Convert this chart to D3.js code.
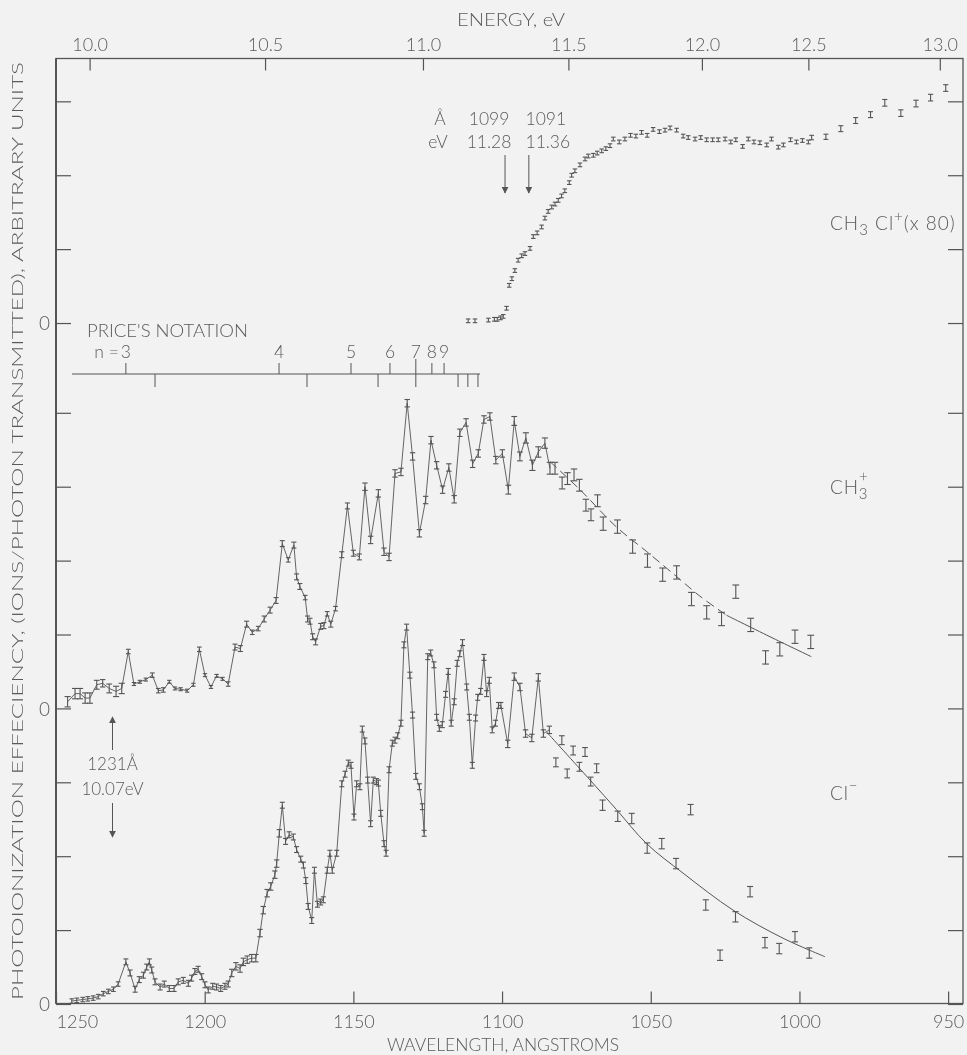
<!DOCTYPE html>
<html><head><meta charset="utf-8">
<title>CH3Cl photoionization efficiency</title>
<style>
  html, body { margin:0; background:#f2f2f2; }
  svg { filter: grayscale(100%); }
  svg text { font-family: Lato, "Open Sans", "DejaVu Sans", sans-serif; fill:#5a5a5a; font-weight:300; }
  .axis path { display:none; }
  .axis line { stroke:#555; stroke-width:1.2; }
  .axis text { font-size:18px; fill:#5a5a5a; }
</style>
</head><body>
<svg id="c" width="967" height="1055"></svg>
<script src="https://cdn.jsdelivr.net/npm/d3@7"></script>
<script>
// ---- data: [wavelength Å, value in divisions, error half-height] ----
const clMinus = [
  [1244.7,0.04,0.03],[1243.0,0.05,0.03],[1241.0,0.06,0.03],[1239.3,0.07,0.03],[1237.5,0.08,0.03],[1235.8,0.10,0.03],
  [1234.1,0.14,0.03],[1232.4,0.17,0.03],[1230.7,0.20,0.03],[1229.1,0.27,0.03],[1226.5,0.57,0.04],[1225.1,0.42,0.04],
  [1223.4,0.20,0.04],[1222.0,0.33,0.04],[1220.6,0.39,0.04],[1219.5,0.50,0.04],[1218.6,0.57,0.04],[1217.8,0.46,0.04],
  [1216.7,0.30,0.04],[1215.0,0.23,0.04],[1213.6,0.27,0.04],[1211.9,0.21,0.04],[1210.3,0.21,0.04],[1208.9,0.30,0.04],
  [1207.2,0.32,0.04],[1205.5,0.28,0.04],[1204.4,0.35,0.04],[1203.3,0.44,0.04],[1202.2,0.47,0.04],[1201.0,0.37,0.04],
  [1199.9,0.26,0.04],[1198.8,0.19,0.04],[1197.3,0.24,0.04],[1196.0,0.23,0.04],[1194.6,0.21,0.04],[1193.2,0.24,0.04],
  [1192.1,0.27,0.04],[1190.9,0.42,0.05],[1189.5,0.51,0.05],[1188.1,0.48,0.05],[1187.0,0.57,0.05],[1185.7,0.60,0.05],
  [1184.2,0.62,0.05],[1182.8,0.62,0.05],[1181.4,0.96,0.05],[1180.3,1.27,0.05],[1179.0,1.50,0.05],[1177.8,1.59,0.05],
  [1176.4,1.75,0.05],[1175.8,1.90,0.05],[1174.9,2.31,0.05],[1173.9,2.69,0.04],[1172.8,2.20,0.04],[1171.6,2.29,0.04],
  [1170.2,2.26,0.04],[1169.1,2.09,0.04],[1167.7,1.96,0.04],[1166.8,1.88,0.04],[1166.0,1.67,0.04],[1165.2,1.32,0.04],
  [1164.0,1.13,0.04],[1163.1,1.81,0.04],[1162.1,1.35,0.04],[1161.0,1.38,0.04],[1160.1,1.41,0.04],[1158.8,1.81,0.04],
  [1157.9,2.04,0.04],[1157.1,1.81,0.04],[1155.6,2.04,0.04],[1153.9,2.98,0.04],[1152.8,3.11,0.04],[1151.7,3.26,0.04],
  [1150.8,3.23,0.04],[1149.8,2.53,0.04],[1148.9,2.98,0.04],[1147.8,2.94,0.04],[1147.0,3.72,0.04],[1146.1,3.56,0.04],
  [1145.2,3.03,0.04],[1144.2,2.44,0.04],[1143.3,3.03,0.04],[1142.2,3.01,0.04],[1141.6,2.99,0.04],[1140.8,2.58,0.04],
  [1139.7,2.17,0.04],[1139.0,2.04,0.04],[1138.0,3.17,0.04],[1136.9,3.53,0.04],[1136.0,3.57,0.04],[1135.1,3.63,0.04],
  [1134.0,3.80,0.04],[1133.0,4.86,0.04],[1132.1,5.10,0.04],[1131.0,4.45,0.04],[1130.1,3.91,0.04],[1129.0,3.08,0.04],
  [1127.8,2.94,0.04],[1126.8,2.67,0.04],[1126.2,2.31,0.04],[1125.0,4.70,0.04],[1124.0,4.75,0.04],[1122.9,4.59,0.04],
  [1122.0,3.88,0.04],[1121.1,3.73,0.04],[1120.1,3.78,0.04],[1119.0,4.19,0.04],[1118.1,4.50,0.04],[1117.1,3.80,0.04],
  [1116.1,4.09,0.04],[1115.1,4.61,0.04],[1114.2,4.74,0.04],[1113.3,4.89,0.04],[1111.9,4.29,0.04],[1111.0,3.88,0.04],
  [1110.0,3.23,0.04],[1108.9,3.87,0.04],[1108.2,4.15,0.04],[1107.2,4.23,0.04],[1106.1,4.69,0.04],[1105.2,4.20,0.04],
  [1104.3,4.38,0.04],[1103.3,3.71,0.04],[1102.2,3.80,0.04],[1101.2,4.04,0.04],[1100.4,4.04,0.04],[1098.1,3.52,0.05],
  [1095.9,4.43,0.05],[1094.0,4.29,0.05],[1092.1,3.66,0.05],[1090.0,3.60,0.05],[1087.8,4.42,0.05],[1086.1,3.66,0.05],
  [1084.1,3.71,0.05],[1081.9,3.27,0.06],[1079.9,3.57,0.06],[1078.1,3.12,0.06],[1076.1,3.43,0.06],[1074.0,3.21,0.06],
  [1072.1,3.41,0.06],[1070.2,3.01,0.06],[1068.2,3.19,0.06],[1066.2,2.69,0.07],[1061.1,2.54,0.07],[1056.4,2.51,0.07],
  [1051.2,2.11,0.07],[1046.3,2.17,0.07],[1041.5,1.90,0.07],[1036.6,2.63,0.07],[1031.5,1.34,0.07],[1026.7,0.66,0.07],
  [1021.5,1.18,0.07],[1016.6,1.52,0.07],[1011.6,0.83,0.07],[1006.8,0.75,0.07],[1001.5,0.91,0.07],[996.7,0.69,0.07]
];
const chPlus = [
  [1246.1,0.09,0.07],[1243.6,0.20,0.07],[1241.9,0.20,0.07],[1240.2,0.14,0.07],[1238.6,0.14,0.07],[1236.3,0.32,0.06],
  [1234.3,0.34,0.05],[1232.1,0.27,0.06],[1229.8,0.23,0.07],[1227.9,0.27,0.07],[1225.7,0.77,0.03],[1223.8,0.33,0.02],
  [1221.8,0.36,0.02],[1219.8,0.39,0.02],[1217.6,0.45,0.03],[1215.6,0.24,0.03],[1213.9,0.25,0.03],[1211.9,0.36,0.02],
  [1210.0,0.27,0.02],[1208.1,0.26,0.02],[1205.9,0.24,0.02],[1203.8,0.32,0.02],[1201.8,0.80,0.03],[1199.9,0.45,0.02],
  [1197.9,0.29,0.02],[1196.0,0.44,0.02],[1194.0,0.40,0.02],[1192.1,0.33,0.03],[1189.8,0.83,0.04],[1188.0,0.81,0.04],
  [1185.9,1.14,0.04],[1184.0,1.03,0.03],[1182.0,1.08,0.03],[1180.0,1.21,0.04],[1178.0,1.33,0.04],[1176.0,1.46,0.04],
  [1173.9,2.23,0.04],[1171.9,2.01,0.03],[1170.0,2.21,0.04],[1169.1,1.78,0.04],[1168.0,1.65,0.04],[1166.2,1.50,0.03],
  [1165.4,1.21,0.04],[1164.6,1.18,0.04],[1163.7,0.97,0.04],[1162.7,0.90,0.04],[1161.0,1.11,0.04],[1159.9,1.12,0.04],
  [1158.8,1.28,0.03],[1157.6,1.14,0.04],[1156.0,1.35,0.03],[1153.9,2.08,0.04],[1152.0,2.74,0.04],[1150.0,2.10,0.04],
  [1148.0,2.05,0.04],[1146.1,3.00,0.05],[1144.2,2.28,0.05],[1141.6,2.91,0.05],[1139.7,2.12,0.05],[1138.0,2.05,0.05],
  [1136.0,3.18,0.05],[1134.0,3.20,0.05],[1131.9,4.13,0.05],[1130.1,3.41,0.05],[1127.8,2.37,0.05],[1125.7,2.82,0.05],
  [1123.9,3.63,0.05],[1122.0,3.29,0.05],[1120.0,2.96,0.05],[1117.9,3.26,0.05],[1116.1,2.83,0.05],[1114.2,3.73,0.05],
  [1112.1,3.87,0.05],[1109.9,3.31,0.05],[1108.0,3.45,0.05],[1106.1,3.91,0.05],[1104.1,3.95,0.05],[1102.1,3.36,0.05],
  [1099.9,3.45,0.05],[1097.9,2.96,0.06],[1095.9,3.89,0.06],[1094.0,3.41,0.06],[1092.0,3.66,0.07],[1089.8,3.29,0.07],
  [1087.8,3.47,0.07],[1085.6,3.59,0.07],[1083.9,3.25,0.08],[1082.2,3.25,0.08],[1079.8,3.05,0.08],[1078.0,3.11,0.08],
  [1075.8,3.16,0.08],[1074.0,3.02,0.08],[1071.8,2.75,0.08],[1070.1,2.62,0.08],[1067.9,2.81,0.08],[1066.0,2.50,0.09],
  [1061.2,2.46,0.09],[1056.1,2.19,0.09],[1051.1,2.00,0.09],[1046.0,1.81,0.09],[1041.3,1.84,0.09],[1036.3,1.48,0.09],
  [1031.2,1.30,0.09],[1026.2,1.21,0.09],[1021.4,1.58,0.09],[1016.4,1.13,0.09],[1011.4,0.69,0.09],[1006.6,0.80,0.09],
  [1001.5,0.97,0.09],[996.2,0.90,0.09]
];
const ch3clPlus = [
  [1111.4,0.03,0.025],[1109.1,0.03,0.025],[1104.6,0.04,0.025],[1102.6,0.05,0.025],[1101.6,0.05,0.025],[1100.5,0.07,0.025],
  [1099.6,0.09,0.025],[1098.5,0.20,0.025],[1097.6,0.51,0.025],[1096.7,0.60,0.025],[1095.7,0.71,0.025],[1094.6,0.85,0.025],
  [1093.4,0.91,0.025],[1092.3,0.94,0.025],[1090.6,1.01,0.025],[1089.5,1.17,0.025],[1088.2,1.22,0.025],[1086.7,1.30,0.025],
  [1085.6,1.42,0.025],[1084.5,1.51,0.025],[1083.3,1.57,0.025],[1082.2,1.61,0.025],[1081.1,1.66,0.025],[1080.0,1.72,0.025],
  [1078.9,1.79,0.025],[1077.4,1.90,0.025],[1076.6,2.00,0.025],[1075.5,2.06,0.025],[1073.8,2.14,0.025],[1072.1,2.22,0.025],
  [1071.0,2.26,0.025],[1069.3,2.27,0.025],[1068.0,2.30,0.025],[1066.5,2.33,0.025],[1065.1,2.36,0.025],[1063.7,2.40,0.025],
  [1062.6,2.49,0.025],[1060.6,2.45,0.025],[1058.7,2.49,0.025],[1056.8,2.54,0.025],[1055.0,2.53,0.025],[1053.1,2.58,0.025],
  [1051.2,2.54,0.025],[1049.2,2.62,0.025],[1047.1,2.59,0.025],[1045.2,2.61,0.025],[1043.5,2.64,0.025],[1041.3,2.61,0.025],
  [1039.1,2.53,0.025],[1037.4,2.51,0.025],[1035.1,2.49,0.025],[1033.2,2.51,0.025],[1031.2,2.48,0.025],[1029.2,2.48,0.025],
  [1027.3,2.48,0.025],[1025.0,2.49,0.025],[1023.1,2.45,0.025],[1021.4,2.48,0.025],[1019.1,2.39,0.025],[1017.2,2.49,0.025],
  [1015.3,2.45,0.025],[1013.3,2.44,0.025],[1011.0,2.41,0.025],[1009.4,2.49,0.025],[1007.1,2.38,0.025],[1005.4,2.41,0.025],
  [1003.0,2.48,0.025],[1001.0,2.45,0.025],[999.0,2.47,0.025],[997.0,2.45,0.025],[995.9,2.51,0.03],[991.1,2.52,0.035],
  [986.1,2.63,0.04],[981.1,2.74,0.04],[976.1,2.82,0.04],[971.3,2.98,0.045],[965.9,2.84,0.045],[960.8,2.97,0.045],
  [955.9,3.05,0.045],[950.8,3.18,0.045]
];
// smooth curves drawn through the short-wavelength ends
const clFit = [[1085.0,3.68],[1070.4,3.03],[1061.5,2.63],[1051.4,2.17],[1039.1,1.77],[1022.3,1.27],[1005.5,0.89],[991.4,0.64]];
const chFit = [[1083.9,3.34],[1073.8,2.96],[1061.4,2.45],[1051.3,2.12],[1041.2,1.78],[1033.5,1.52],[1024.5,1.26],[1008.9,0.95],[996.0,0.70]];
const chFitSolidFrom = 1024.5;
const joinedDownTo = 1083.5;   // points are joined by a line down to this wavelength

// baselines (divisions) of the three stacked spectra
const zeroCl = 0, zeroCh = 4, zeroCh3cl = 9.215;

// axes
const wlTicks = [1250, 1200, 1150, 1100, 1050, 1000, 950];
const eTicks = ["10.0", "10.5", "11.0", "11.5", "12.0", "12.5", "13.0"];
const eTickWl = [1238.7, 1179.7, 1126.6, 1077.7, 1032.8, 997.0, 952.8];
const yTicks = [0, 1, 2, 3, 4, 5, 6, 7, 8, 9.215, 10.215, 11.215, 12.215];
const yZeroLabels = [0, 4, 9.215];

// Price's Rydberg notation scale
const priceN = ["3", "4", "5", "6", "7", "8", "9"];
const priceUp = [1226.5, 1175.0, 1150.8, 1137.7, 1129.0, 1123.6, 1119.5];
const priceDown = [1216.7, 1165.6, 1141.7, 1129.0, 1114.8, 1111.5, 1108.1];
const priceSpan = [1244.6, 1107.4];

const svg = d3.select("#c");
const W = 967, H = 1055;
const L = 56, R = 963, T = 58.5, B = 1003.5;
const ink = "#555", txt = "#5a5a5a";
svg.append("rect").attr("width", W).attr("height", H).attr("fill", "#f2f2f2");

const x = d3.scaleLinear().domain([1250, 945]).range([L, R]);
const y = d3.scaleLinear().domain([0, 12.8]).range([1004, 58.1]);

// frame
svg.append("rect").attr("x", L).attr("y", T).attr("width", R - L).attr("height", B - T)
  .attr("fill", "none").attr("stroke", ink).attr("stroke-width", 1.3);
svg.append("line").attr("x1", L).attr("x2", L).attr("y1", T).attr("y2", B).attr("stroke", ink).attr("stroke-width", 2);

// bottom wavelength axis
const gb = svg.append("g").attr("class", "axis").attr("transform", `translate(0,${B})`)
  .call(d3.axisBottom(x).tickValues(wlTicks).tickSizeInner(-12).tickSizeOuter(0).tickPadding(12).tickFormat(d3.format("d")));
gb.selectAll(".tick").filter(d => d === 1250).select("text").attr("text-anchor", "start").attr("x", 0);

// top energy axis
svg.append("g").attr("class", "axis").attr("transform", `translate(0,${T})`)
  .call(d3.axisTop(x).tickValues(eTickWl).tickSizeInner(-12).tickSizeOuter(0).tickPadding(8)
    .tickFormat((d, i) => eTicks[i]));

// left and right ordinate ticks
svg.append("g").attr("class", "axis").attr("transform", `translate(${L},0)`)
  .call(d3.axisLeft(y).tickValues(yTicks).tickSizeInner(-15).tickSizeOuter(0).tickPadding(6)
    .tickFormat(d => yZeroLabels.includes(d) ? "0" : ""));
svg.append("g").attr("class", "axis").attr("transform", `translate(${R},0)`)
  .call(d3.axisRight(y).tickValues(yTicks).tickSizeInner(-15).tickSizeOuter(0).tickFormat(""));
svg.selectAll(".axis .tick text").filter(function () { return this.textContent === "0"; })
  .style("font-size", "19px").attr("dy", "0.36em");

// axis titles
svg.append("text").attr("x", 511).attr("y", 26).attr("text-anchor", "middle").style("font-size", "17px")
  .attr("textLength", 108).attr("lengthAdjust", "spacingAndGlyphs").text("ENERGY, eV");
svg.append("text").attr("x", 503).attr("y", 1051).attr("text-anchor", "middle").style("font-size", "17px")
  .attr("textLength", 232).attr("lengthAdjust", "spacingAndGlyphs").text("WAVELENGTH, ANGSTROMS");
svg.append("text").attr("transform", "translate(23,531) rotate(-90)").attr("text-anchor", "middle")
  .style("font-size", "15.5px").attr("textLength", 938).attr("lengthAdjust", "spacingAndGlyphs")
  .text("PHOTOIONIZATION EFFECIENCY, (IONS/PHOTON TRANSMITTED), ARBITRARY UNITS");

// series drawing
function errorBars(data, base) {
  const g = svg.append("g").attr("stroke", ink).attr("stroke-width", 1.1);
  const cap = d => Math.min(3.4, 1.8 + d[2] * 18);
  g.selectAll(".v").data(data).join("line")
    .attr("x1", d => x(d[0])).attr("x2", d => x(d[0]))
    .attr("y1", d => y(base + d[1] - d[2])).attr("y2", d => y(base + d[1] + d[2]));
  g.selectAll(".t").data(data).join("line")
    .attr("x1", d => x(d[0]) - cap(d)).attr("x2", d => x(d[0]) + cap(d))
    .attr("y1", d => y(base + d[1] + d[2])).attr("y2", d => y(base + d[1] + d[2]));
  g.selectAll(".b").data(data).join("line")
    .attr("x1", d => x(d[0]) - cap(d)).attr("x2", d => x(d[0]) + cap(d))
    .attr("y1", d => y(base + d[1] - d[2])).attr("y2", d => y(base + d[1] - d[2]));
}
function joinLine(data, base) {
  const line = d3.line().x(d => x(d[0])).y(d => y(base + d[1]));
  svg.append("path").datum(data.filter(d => d[0] >= joinedDownTo)).attr("d", line)
    .attr("fill", "none").attr("stroke", ink).attr("stroke-width", 0.9);
}
function fitLine(data, base, dash) {
  const line = d3.line().curve(d3.curveCatmullRom).x(d => x(d[0])).y(d => y(base + d[1]));
  svg.append("path").datum(data).attr("d", line).attr("fill", "none")
    .attr("stroke", ink).attr("stroke-width", 1).attr("stroke-dasharray", dash || null);
}

joinLine(clMinus, zeroCl);
fitLine(clFit, zeroCl);
errorBars(clMinus, zeroCl);

joinLine(chPlus, zeroCh);
fitLine(chFit.filter(d => d[0] >= chFitSolidFrom), zeroCh, "9,5");
fitLine(chFit.filter(d => d[0] <= chFitSolidFrom), zeroCh);
errorBars(chPlus, zeroCh);

errorBars(ch3clPlus, zeroCh3cl);

// series labels
function label(xp, yp, parts, ls) {
  const t = svg.append("text").attr("x", xp).attr("y", yp).attr("fill", txt).style("font-size", "19px")
    .attr("letter-spacing", ls || "0.8");
  parts.forEach(p => t.append("tspan").attr("dx", p.dx || 0).attr("dy", p.dy || 0)
    .style("font-size", (p.s || 19) + "px").text(p.t));
  return t;
}
label(830, 230, [{ t: "CH" }, { t: "3", dy: 5, s: 15 }, { t: " Cl", dy: -5 }, { t: "+", dy: -8, s: 15 }, { t: "(x 80)", dy: 8 }], "1.0");
const chLab = label(830, 494, [{ t: "CH" }, { t: "3", dy: 5, s: 15 }]);
const chW = chLab.node().getComputedTextLength();
svg.append("text").attr("x", 830 + chW - 5).attr("y", 482).attr("text-anchor", "middle").attr("fill", txt)
  .style("font-size", "15px").text("+");
label(830, 800, [{ t: "Cl" }, { t: "\u2212", dy: -9, s: 15 }]);

// arrows
const defs = svg.append("defs");
defs.append("marker").attr("id", "ah").attr("viewBox", "0 0 10 10").attr("refX", 9).attr("refY", 5)
  .attr("markerWidth", 7).attr("markerHeight", 9).attr("markerUnits", "userSpaceOnUse").attr("orient", "auto")
  .append("path").attr("d", "M0,0 L10,5 L0,10 Z").attr("fill", ink);
function arrow(xp, y1, y2) {
  svg.append("line").attr("x1", xp).attr("x2", xp).attr("y1", y1).attr("y2", y2)
    .attr("stroke", ink).attr("stroke-width", 1).attr("marker-end", "url(#ah)");
}

// onset annotations
const ann = (xp, yp, s, size) => svg.append("text").attr("x", xp).attr("y", yp).attr("text-anchor", "middle")
  .attr("fill", txt).style("font-size", (size || 17.5) + "px").text(s);
ann(440, 125, "Å"); ann(x(1099) - 16, 125, "1099"); ann(x(1091) + 17, 125, "1091");
ann(438, 148, "eV"); ann(x(1099) - 16, 148, "11.28"); ann(x(1091) + 19, 148, "11.36");
arrow(x(1099), 155, 193);
arrow(x(1091), 155, 193);

ann(x(1231), 770, "1231Å", 17);
ann(x(1231), 795, "10.07eV", 17);
arrow(x(1231), 750, 717);
arrow(x(1231), 803, 837);

// Price's notation scale
const py = 374;
const pg = svg.append("g").attr("stroke", ink).attr("stroke-width", 1);
pg.append("line").attr("x1", x(priceSpan[0])).attr("x2", x(priceSpan[1])).attr("y1", py).attr("y2", py);
pg.selectAll(".u").data(priceUp).join("line").attr("x1", d => x(d)).attr("x2", d => x(d))
  .attr("y1", (d, i) => i === 4 ? py - 15 : py - 11).attr("y2", py);
pg.selectAll(".d").data(priceDown).join("line").attr("x1", d => x(d)).attr("x2", d => x(d))
  .attr("y1", py).attr("y2", py + 13);
svg.append("g").selectAll("text").data(priceN).join("text").attr("x", (d, i) => x(priceUp[i])).attr("y", 358)
  .attr("text-anchor", "middle").attr("fill", txt).style("font-size", "17.5px").text(d => d);
svg.append("text").attr("x", x(priceUp[0]) - 7).attr("y", 358).attr("text-anchor", "end").attr("fill", txt)
  .style("font-size", "17.5px").text("n =");
svg.append("text").attr("x", 87).attr("y", 337).attr("fill", txt).style("font-size", "17px")
  .attr("textLength", 161).attr("lengthAdjust", "spacingAndGlyphs").text("PRICE'S NOTATION");
</script>
</body></html>
